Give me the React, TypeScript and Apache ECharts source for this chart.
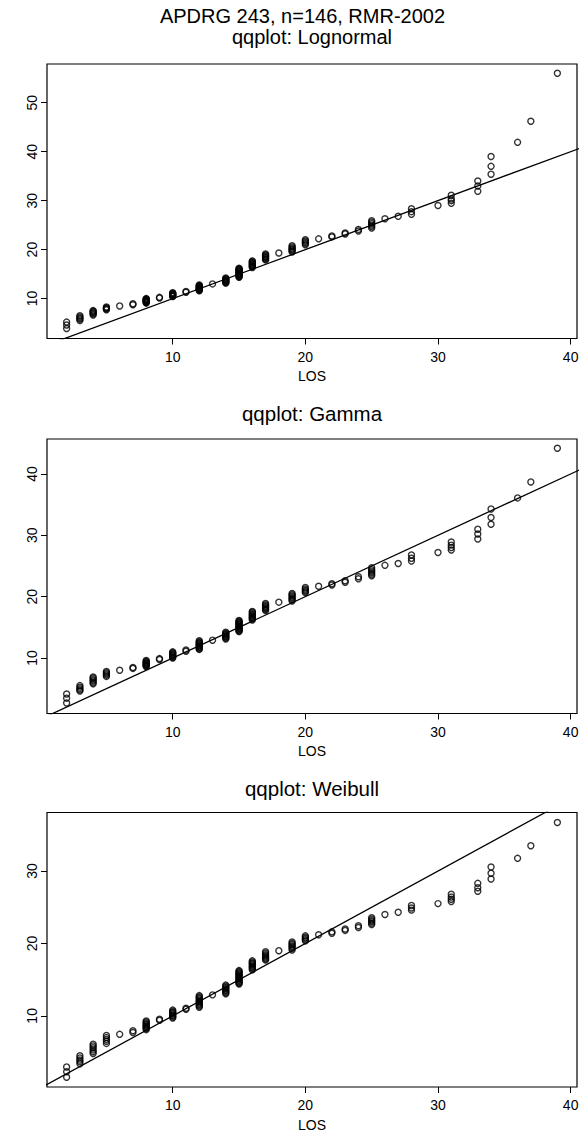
import React, { useEffect, useRef } from "react";
import * as echarts from "echarts";

// Sorted LOS levels (x of the qq-plots) and the fitted quantiles (y) read per level
const losLevels = [2, 3, 4, 5, 6, 7, 8, 9, 10, 11, 12, 13, 14, 15, 16, 17, 18, 19, 20, 21, 22, 23, 24, 25, 26, 27, 28, 30, 31, 33, 34, 36, 37, 39];

const lognormalQ = [
  [3.9, 4.6, 5.2],
  [5.5, 5.8, 6.0, 6.25, 6.5],
  [6.65, 6.85, 7.05, 7.2, 7.4, 7.55],
  [7.7, 7.85, 8.0, 8.15, 8.3],
  [8.5],
  [8.75, 8.95],
  [9.1, 9.2, 9.3, 9.4, 9.5, 9.6, 9.7, 9.8, 9.9, 10.0],
  [10.1, 10.25],
  [10.4, 10.5, 10.6, 10.7, 10.8, 10.9, 11.0, 11.1, 11.2],
  [11.3, 11.45],
  [11.6, 11.7, 11.8, 11.9, 12.0, 12.1, 12.2, 12.3, 12.45, 12.55, 12.65, 12.8],
  [13.0],
  [13.15, 13.3, 13.4, 13.55, 13.65, 13.8, 13.9, 14.05, 14.2],
  [14.35, 14.45, 14.6, 14.7, 14.85, 14.95, 15.05, 15.2, 15.3, 15.45, 15.55, 15.7, 15.8, 15.95, 16.05, 16.2],
  [16.35, 16.5, 16.65, 16.8, 16.95, 17.1, 17.25, 17.4, 17.55, 17.7],
  [17.9, 18.05, 18.2, 18.4, 18.55, 18.7, 18.9, 19.1],
  [19.3],
  [19.5, 19.7, 19.9, 20.1, 20.3, 20.55, 20.8],
  [21.0, 21.25, 21.5, 21.75, 22.0],
  [22.2],
  [22.6, 22.8],
  [23.2, 23.4],
  [23.8, 24.1],
  [24.4, 24.7, 25.0, 25.3, 25.6, 25.9],
  [26.3],
  [26.8],
  [27.2, 27.75, 28.35],
  [29.0],
  [29.45, 30.0, 30.35, 31.1],
  [31.9, 33.0, 34.0],
  [35.4, 37.0, 39.0],
  [41.9],
  [46.2],
  [56.0],
];

const gammaQ = [
  [2.66, 3.45, 4.13],
  [4.6, 4.8, 5.0, 5.25, 5.5],
  [5.8, 6.0, 6.25, 6.45, 6.7, 6.9],
  [7.0, 7.2, 7.4, 7.6, 7.8],
  [8.0],
  [8.3, 8.45],
  [8.6, 8.7, 8.8, 8.9, 9.0, 9.1, 9.2, 9.3, 9.45, 9.6],
  [9.75, 9.9],
  [10.0, 10.1, 10.25, 10.35, 10.5, 10.6, 10.75, 10.85, 11.0],
  [11.1, 11.3],
  [11.4, 11.5, 11.65, 11.75, 11.9, 12.0, 12.15, 12.25, 12.4, 12.5, 12.65, 12.8],
  [12.9],
  [13.1, 13.25, 13.4, 13.5, 13.65, 13.8, 13.9, 14.05, 14.2],
  [14.3, 14.4, 14.55, 14.65, 14.8, 14.9, 15.0, 15.15, 15.25, 15.4, 15.5, 15.6, 15.75, 15.85, 16.0, 16.1],
  [16.2, 16.35, 16.5, 16.65, 16.8, 16.95, 17.1, 17.25, 17.45, 17.6],
  [17.75, 17.9, 18.05, 18.2, 18.35, 18.5, 18.7, 18.9],
  [19.1],
  [19.3, 19.5, 19.7, 19.9, 20.1, 20.3, 20.5],
  [20.65, 20.85, 21.05, 21.25, 21.5],
  [21.7],
  [21.9, 22.1],
  [22.35, 22.6],
  [22.9, 23.25],
  [23.4, 23.65, 23.9, 24.15, 24.4, 24.7],
  [25.1],
  [25.4],
  [25.8, 26.25, 26.8],
  [27.2],
  [27.6, 28.0, 28.4, 28.9],
  [29.4, 30.2, 31.0],
  [31.8, 32.9, 34.3],
  [36.1],
  [38.7],
  [44.2],
];

const weibullQ = [
  [1.52, 2.3, 2.95],
  [3.4, 3.65, 3.9, 4.2, 4.5],
  [4.8, 5.05, 5.3, 5.6, 5.85, 6.1],
  [6.2, 6.5, 6.75, 7.0, 7.3],
  [7.45],
  [7.7, 7.95],
  [8.1, 8.25, 8.35, 8.5, 8.6, 8.75, 8.85, 9.0, 9.15, 9.3],
  [9.4, 9.55],
  [9.7, 9.85, 10.0, 10.1, 10.25, 10.4, 10.5, 10.65, 10.8],
  [10.9, 11.05],
  [11.2, 11.35, 11.5, 11.65, 11.8, 11.95, 12.05, 12.2, 12.35, 12.5, 12.65, 12.8],
  [12.9],
  [13.05, 13.2, 13.35, 13.5, 13.65, 13.8, 13.95, 14.1, 14.25],
  [14.4, 14.5, 14.65, 14.75, 14.9, 15.0, 15.15, 15.25, 15.4, 15.5, 15.65, 15.75, 15.9, 16.0, 16.15, 16.25],
  [16.35, 16.5, 16.65, 16.8, 16.9, 17.05, 17.2, 17.3, 17.45, 17.6],
  [17.7, 17.85, 18.0, 18.15, 18.3, 18.45, 18.65, 18.85],
  [19.0],
  [19.1, 19.3, 19.5, 19.65, 19.85, 20.0, 20.2],
  [20.35, 20.5, 20.7, 20.85, 21.05],
  [21.2],
  [21.4, 21.6],
  [21.8, 22.0],
  [22.2, 22.45],
  [22.6, 22.8, 23.0, 23.15, 23.35, 23.55],
  [24.0],
  [24.3],
  [24.6, 24.9, 25.25],
  [25.5],
  [25.8, 26.1, 26.4, 26.8],
  [27.2, 27.7, 28.3],
  [28.9, 29.7, 30.55],
  [31.75],
  [33.5],
  [36.7],
];

// reference line y = x (endpoints, clipped by the plot box)
const refLine = [[0, 0], [60, 60]];

const mainTitle = "APDRG 243, n=146, RMR-2002";
const panelTitles = ["qqplot: Lognormal", "qqplot: Gamma", "qqplot: Weibull"];
const xLabel = "LOS";
const xTicks = [10, 20, 30, 40];
const yTicksList = [[10, 20, 30, 40, 50], [10, 20, 30, 40], [10, 20, 30]];
const xRange = [0.52, 40.48];
const yRanges = [[1.85, 57.9], [0.95, 45.7], [0.18, 38.08]];

const FONT = "'Liberation Sans', Arial, Helvetica, sans-serif";

function buildPoints(q: number[][]) {
  const pts: number[][] = [];
  q.forEach((ys, i) => ys.forEach((y) => pts.push([losLevels[i], y])));
  return pts;
}

export default function App() {
  const ref = useRef<HTMLDivElement>(null);
  useEffect(() => {
    if (!ref.current) return;
    const chart = echarts.init(ref.current, undefined, { renderer: "svg" });
    const tops = [64, 439, 812.5];
    const gridLeft = 47;
    const gridW = 530;
    const gridH = 274.5;
    const centerX = gridLeft + gridW / 2;
    const panels = [lognormalQ, gammaQ, weibullQ];

    const grid = tops.map((top) => ({
      left: gridLeft,
      top,
      width: gridW,
      height: gridH,
      show: true,
      borderColor: "#000",
      borderWidth: 1.2,
      backgroundColor: "transparent",
    }));
    const xAxis = tops.map((_, i) => ({
      type: "value",
      gridIndex: i,
      min: xRange[0],
      max: xRange[1],
      axisLine: { show: false },
      splitLine: { show: false },
      axisTick: { show: true, length: 6, lineStyle: { color: "#000", width: 1 }, customValues: xTicks },
      axisLabel: { fontSize: 14, color: "#000", fontFamily: FONT, margin: 11, customValues: xTicks },
    }));
    const yAxis = tops.map((_, i) => ({
      type: "value",
      gridIndex: i,
      min: yRanges[i][0],
      max: yRanges[i][1],
      axisLine: { show: false },
      splitLine: { show: false },
      axisTick: { show: true, length: 6, lineStyle: { color: "#000", width: 1 }, customValues: yTicksList[i] },
      axisLabel: { fontSize: 14, color: "#000", fontFamily: FONT, margin: 8, rotate: 90, customValues: yTicksList[i] },
    }));
    const series: any[] = [];
    panels.forEach((q, i) => {
      series.push({
        type: "line",
        xAxisIndex: i,
        yAxisIndex: i,
        data: refLine,
        symbol: "none",
        clip: true,
        lineStyle: { color: "#000", width: 1.3 },
        silent: true,
      });
      series.push({
        type: "scatter",
        xAxisIndex: i,
        yAxisIndex: i,
        data: buildPoints(q),
        symbol: "circle",
        symbolSize: 6,
        clip: true,
        itemStyle: { color: "rgba(0,0,0,0)", borderColor: "#000", borderWidth: 1.4 },
      });
    });

    const txt = (text: string, x: number, y: number, size: number) => ({
      type: "text",
      x,
      y,
      style: { text, fontSize: size, fontFamily: FONT, fill: "#000", align: "center", verticalAlign: "middle" },
    });
    const graphic: any[] = [
      txt(mainTitle, 302.5, 16.2, 20),
      txt(panelTitles[0], centerX, 37.4, 20),
      txt(panelTitles[1], centerX, 413.8, 20.5),
      txt(panelTitles[2], centerX, 788.5, 20.5),
    ];
    tops.forEach((top) => graphic.push(txt(xLabel, centerX, top + gridH + 37.7, 14)));

    chart.setOption({
      animation: false,
      backgroundColor: "#fff",
      grid,
      xAxis,
      yAxis,
      series,
      graphic,
    } as any);
    return () => chart.dispose();
  }, []);
  return (
    <div
      ref={ref}
      style={{ position: "absolute", left: 0, top: 0, width: 587, height: 1138, background: "#fff" }}
    />
  );
}
